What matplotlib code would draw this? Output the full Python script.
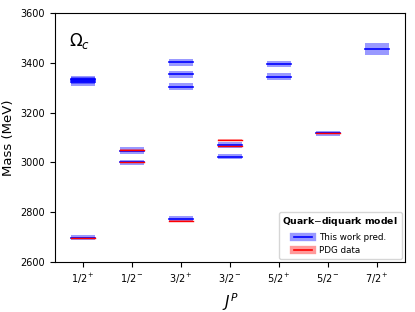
import matplotlib
matplotlib.use("Agg")
import matplotlib.pyplot as plt
from matplotlib.lines import Line2D

categories = ["1/2$^+$", "1/2$^-$", "3/2$^+$", "3/2$^-$", "5/2$^+$", "5/2$^-$", "7/2$^+$"]

# model predictions: (category index, mass, uncertainty)
pred_cat = [0, 0, 0, 0, 1, 1, 2, 2, 2, 2, 3, 3, 4, 4, 5, 6]
pred_mass = [2698, 3322, 3330, 3337, 3048, 3001, 2774, 3304, 3354, 3402, 3070, 3024, 3396, 3345, 3117, 3455]
pred_err = [9, 16, 14, 12, 13, 10, 11, 14, 15, 13, 13, 11, 13, 15, 10, 23]

# PDG data
pdg_cat = [0, 1, 1, 2, 3, 3, 5]
pdg_mass = [2695, 3050, 3000, 2766, 3090, 3065, 3119]
pdg_err = [2, 1, 1, 2, 1, 1, 1]

fig = plt.figure(figsize=(4.15, 3.12), dpi=100)
ax = fig.add_axes([0.1325, 0.16, 0.8435, 0.798])

hw = 0.25
for c, m, e in zip(pred_cat, pred_mass, pred_err):
    ax.fill_between([c - hw, c + hw], m - e, m + e, color="blue", alpha=0.4, lw=0)
    ax.plot([c - hw, c + hw], [m, m], color="blue", lw=1.2)
for c, m, e in zip(pdg_cat, pdg_mass, pdg_err):
    ax.fill_between([c - hw, c + hw], m - e - 2, m + e + 2, color="red", alpha=0.35, lw=0)
    ax.plot([c - hw, c + hw], [m, m], color="red", lw=1.0)

ax.set_xlim(-0.57, 6.57)
ax.set_ylim(2600, 3600)
ax.set_xticks(range(len(categories)))
ax.set_xticklabels(categories, fontsize=7)
ax.set_yticks(range(2600, 3601, 200))
ax.tick_params(axis="y", labelsize=7)
ax.set_ylabel("Mass (MeV)", fontsize=9.5)
ax.set_xlabel("$J^P$", fontsize=11)
ax.text(0.04, 0.93, r"$\Omega_c$", transform=ax.transAxes, fontsize=12, va="top")

h1 = (Line2D([], [], color="blue", alpha=0.4, lw=6), Line2D([], [], color="blue", lw=1.2))
h2 = (Line2D([], [], color="red", alpha=0.4, lw=6), Line2D([], [], color="red", lw=1.2))
leg = ax.legend([h1, h2], ["This work pred.", "PDG data"], loc="lower right",
                title="Quark$-$diquark model", fontsize=6.3, title_fontsize=6.7,
                borderaxespad=0.4)
leg.get_title().set_fontweight("bold")

fig.savefig("out.png", dpi=100)
